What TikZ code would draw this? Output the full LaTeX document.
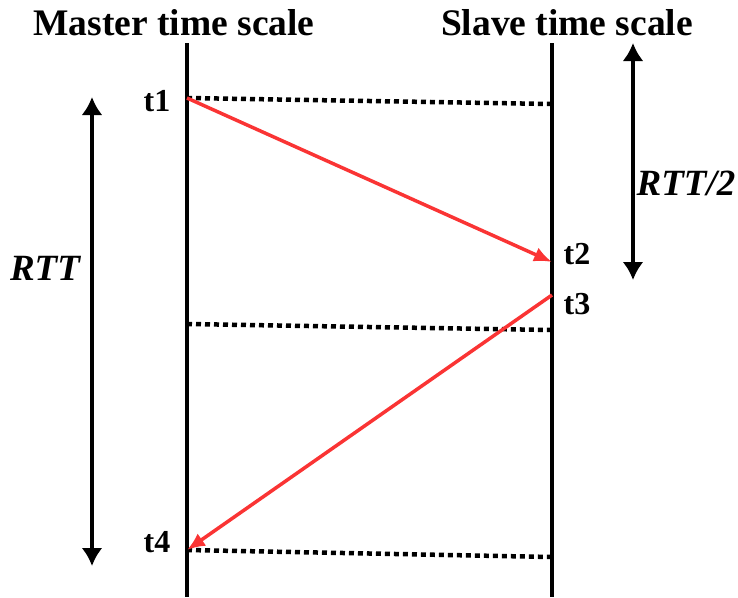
\documentclass[tikz,border=0pt]{standalone}
\usepackage{fontspec}
\setmainfont{Liberation Serif}
\usetikzlibrary{arrows.meta,positioning}
\definecolor{msgRed}{RGB}{250,52,52}
\tikzset{
  timeline/.style={line width=3.5pt, draw=black},
  syncline/.style={line width=4.5pt, dash pattern=on 5pt off 4pt},
  msg/.style={-{Latex[length=18pt,width=15pt]}, line width=3.5pt, draw=msgRed},
  span/.style={{Latex[length=18pt,width=21pt]}-{Latex[length=18pt,width=21pt]}, line width=3.5pt},
  scaletitle/.style={font=\fontsize{37.5}{42}\selectfont\bfseries, inner sep=0pt},
  stamp/.style={font=\fontsize{32}{36}\selectfont\bfseries, inner sep=0pt},
  delay/.style={font=\fontsize{37}{42}\selectfont\bfseries\itshape, inner sep=0pt}
}
\begin{document}
\begin{tikzpicture}[x=1pt, y=-1pt]
  \useasboundingbox (0,0) rectangle (738,597);
  % time axes
  \coordinate (mTop) at (187,43);  \coordinate (mBot) at (187,597);
  \coordinate (sTop) at (552,43);  \coordinate (sBot) at (552,597);
  \draw[timeline] (mTop) -- (mBot);
  \draw[timeline] (sTop) -- (sBot);
  \node[scaletitle, anchor=base] (master) at (174,35) {Master time scale};
  \node[scaletitle, anchor=base] (slave) at (567,35) {Slave time scale};
  % event points
  \coordinate (m1) at (187,98);   \coordinate (s1) at (552,104);
  \coordinate (s2) at (552,262);  \coordinate (s3) at (552,295);
  \coordinate (mMid) at (187,324); \coordinate (sMid) at (552,330);
  \coordinate (m4) at (187,550);  \coordinate (s4) at (552,557);
  \draw[syncline] (m1) -- (s1);
  \draw[syncline] (mMid) -- (sMid);
  \draw[syncline] (m4) -- (s4);
  \draw[msg] (m1) -- (s2);
  \draw[msg] (s3) -- (m4);
  \node[stamp] (t1) at (157,101) {t1};
  \node[stamp] (t2) at (577,254) {t2};
  \node[stamp] (t3) at (577,304) {t3};
  \node[stamp] (t4) at (157,542) {t4};
  % delays
  \coordinate (rttTop) at (92,97);   \coordinate (rttBot) at (92,566);
  \coordinate (halfTop) at (633,43); \coordinate (halfBot) at (633,280);
  \draw[span] (rttTop) -- (rttBot);
  \draw[span] (halfTop) -- (halfBot);
  \node[delay, anchor=base] (rtt) at (45,280) {RTT};
  \node[delay, anchor=base] (rtthalf) at (686,195) {RTT/2};
\end{tikzpicture}
\end{document}
